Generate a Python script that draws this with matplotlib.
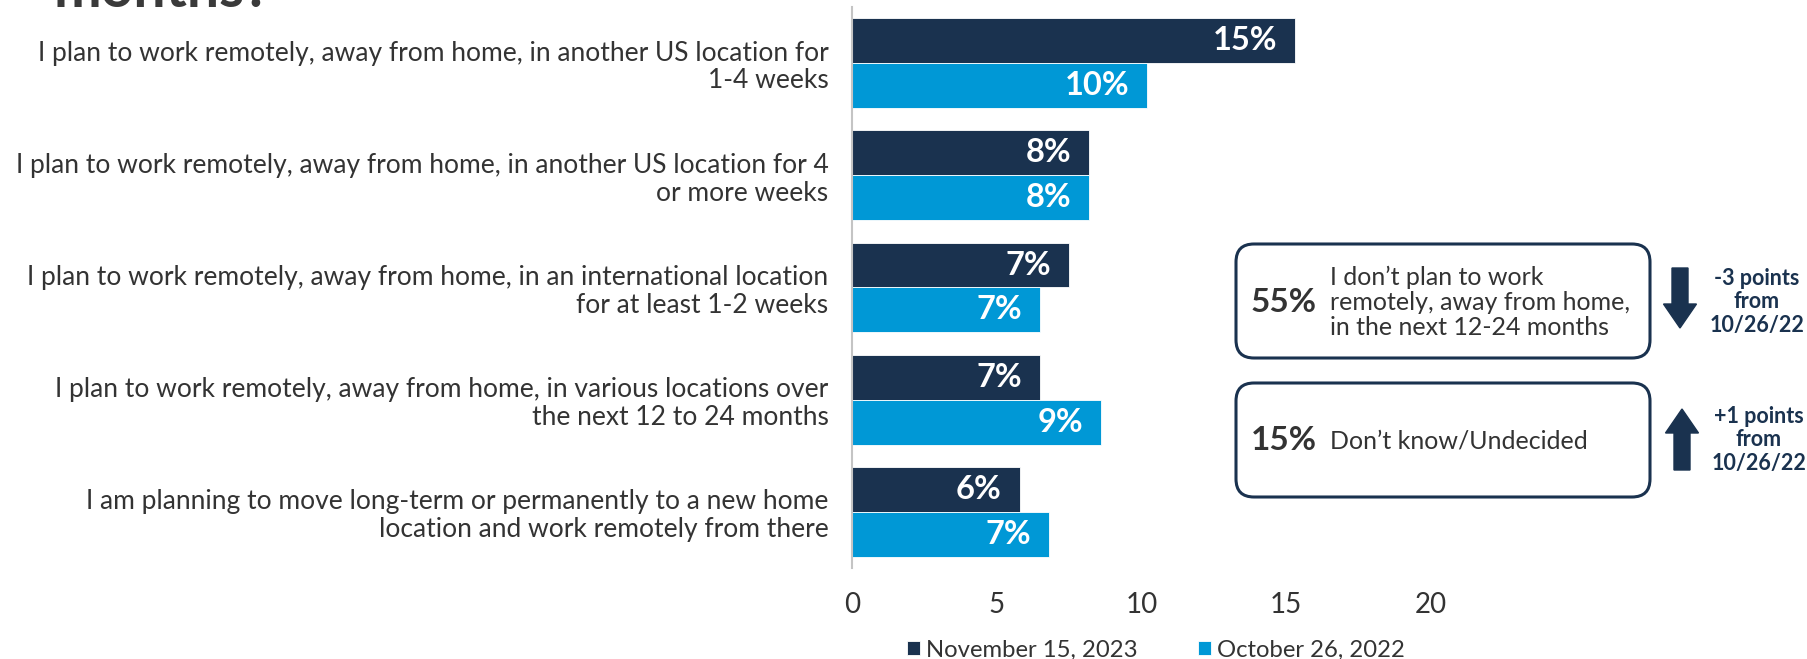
import matplotlib
matplotlib.use("Agg")
import matplotlib.pyplot as plt
from matplotlib.patches import FancyBboxPatch, FancyArrow
import numpy as np

plt.rcParams['font.family'] = ['Lato', 'DejaVu Sans']

# data
categories = [
    "I plan to work remotely, away from home, in another US location for\n1-4 weeks",
    "I plan to work remotely, away from home, in another US location for 4\nor more weeks",
    "I plan to work remotely, away from home, in an international location\nfor at least 1-2 weeks",
    "I plan to work remotely, away from home, in various locations over\nthe next 12 to 24 months",
    "I am planning to move long-term or permanently to a new home\nlocation and work remotely from there",
]
nov_2023 = [15.3, 8.2, 7.5, 6.5, 5.8]
oct_2022 = [10.2, 8.2, 6.5, 8.6, 6.8]
nov_labels = ["15%", "8%", "7%", "7%", "6%"]
oct_labels = ["10%", "8%", "7%", "9%", "7%"]
series_names = ["November 15, 2023", "October 26, 2022"]
x_ticks = [0, 5, 10, 15, 20]

DARK = "#1a324f"
LIGHT = "#0098d6"
TEXT = "#333333"

fig = plt.figure(figsize=(18.08, 6.59), dpi=100)
ax = fig.add_axes([852 / 1808, 91 / 659, 579 / 1808, 561 / 659])

y = np.arange(len(categories))
h = 0.4
b1 = ax.barh(y - h / 2, nov_2023, height=h, color=DARK, edgecolor="white", linewidth=0.6,
             label=series_names[0])
b2 = ax.barh(y + h / 2, oct_2022, height=h, color=LIGHT, edgecolor="white", linewidth=0.6,
             label=series_names[1])

# value labels inside the bar ends
for bars, labels in [(b1, nov_labels), (b2, oct_labels)]:
    for rect, lab in zip(bars, labels):
        ax.annotate(lab, (rect.get_width(), rect.get_y() + rect.get_height() / 2),
                    xytext=(-13, 0), textcoords="offset points",
                    ha="right", va="center", color="white", fontsize=23.5, fontweight="bold")

ax.set_xlim(0, 20)
ax.set_ylim(len(categories) - 0.5, -0.5)
ax.set_xticks(x_ticks)
ax.set_xticklabels([str(t) for t in x_ticks])
ax.set_yticks(y)
ax.set_yticklabels(categories, ha="right", multialignment="right", linespacing=1.14)
ax.tick_params(axis="y", length=0, pad=17, labelsize=19, labelcolor=TEXT)
ax.tick_params(axis="x", length=0, pad=17, labelsize=20, labelcolor=TEXT)
for s in ["top", "right", "bottom"]:
    ax.spines[s].set_visible(False)
ax.spines["left"].set_color("#c4c4c4")
ax.spines["left"].set_linewidth(1.5)

fig.legend(loc="center", bbox_to_anchor=(1156 / 1808, 1 - 650 / 659), ncol=2, frameon=False,
           fontsize=17.2, handlelength=0.55, handleheight=0.55, handletextpad=0.25,
           columnspacing=2.5, labelcolor=TEXT)

# overlay in pixel coordinates for the title remnant, boxes and arrows
ov = fig.add_axes([0, 0, 1, 1])
ov.set_xlim(0, 1808)
ov.set_ylim(659, 0)
ov.axis("off")
ov.patch.set_alpha(0)

ov.text(54, 7, "months?", fontsize=41, fontweight="bold", color="#3a3a3a", ha="left", va="baseline")

for top, pct, desc in [(244, "55%", "I don\u2019t plan to work\nremotely, away from home,\nin the next 12-24 months"),
                       (383, "15%", "Don\u2019t know/Undecided")]:
    box = FancyBboxPatch((1236 + 18, top + 18), 414 - 36, 114 - 36,
                         boxstyle="round,pad=18", facecolor="white", edgecolor=DARK, linewidth=2.2)
    ov.add_patch(box)
    cy = top + 57
    ov.text(1251, cy + 1, pct, fontsize=24, fontweight="bold", color=TEXT, ha="left", va="center")
    ov.text(1330, cy + 1, desc, fontsize=18, color=TEXT, ha="left", va="center", linespacing=1.1)

ov.add_patch(FancyArrow(1680, 268, 0, 60, width=16, head_width=33, head_length=24,
                        length_includes_head=True, color=DARK))
ov.add_patch(FancyArrow(1682, 470, 0, -61, width=16, head_width=33, head_length=24,
                        length_includes_head=True, color=DARK))
ov.text(1757, 302, "-3 points\nfrom\n10/26/22", fontsize=15.5, fontweight="bold", color=DARK,
        ha="center", va="center", linespacing=1.12)
ov.text(1759, 440, "+1 points\nfrom\n10/26/22", fontsize=15.5, fontweight="bold", color=DARK,
        ha="center", va="center", linespacing=1.12)

fig.savefig("out.png", dpi=100, facecolor="white")
